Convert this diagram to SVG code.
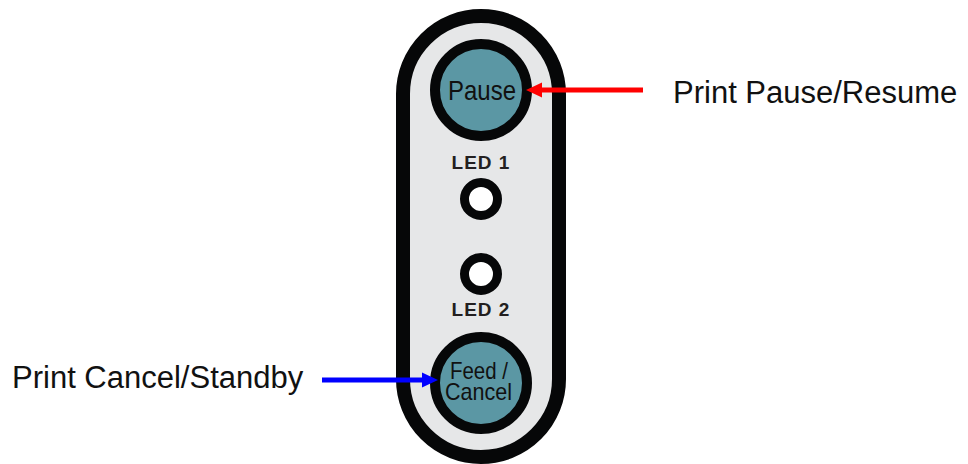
<svg xmlns="http://www.w3.org/2000/svg" width="968" height="464" viewBox="0 0 968 464">
<style>
.lbl{font-family:"Liberation Sans",Arial,sans-serif;font-size:31px;fill:#111}
.btn{font-family:"Liberation Sans",Arial,sans-serif;fill:#111;text-anchor:middle}
.led{font-family:"Liberation Sans",Arial,sans-serif;font-weight:bold;font-size:19px;fill:#231f20;text-anchor:middle;letter-spacing:1px}
.ring{fill:#5b97a4;stroke:#060708;stroke-width:10}
.ledc{fill:#ffffff;stroke:#060708;stroke-width:9}
</style>
<rect width="968" height="464" fill="#ffffff"/>
<g id="panel">
<rect x="403" y="16" width="156" height="441" rx="78" ry="78" fill="#e6e7e8" stroke="#060708" stroke-width="14"/>
</g>
<g id="pause">
<circle class="ring" cx="481" cy="90" r="46"/>
<text class="btn" x="482" y="100" font-size="28" textLength="68" lengthAdjust="spacingAndGlyphs">Pause</text>
</g>
<g id="led1">
<text class="led" x="481" y="169">LED 1</text>
<circle class="ledc" cx="481" cy="199" r="16.5"/>
</g>
<g id="led2">
<circle class="ledc" cx="481" cy="274" r="16.5"/>
<text class="led" x="481" y="316">LED 2</text>
</g>
<g id="feed">
<circle class="ring" cx="481" cy="383" r="46"/>
<text class="btn" x="479" y="379" font-size="24" textLength="58" lengthAdjust="spacingAndGlyphs">Feed /</text>
<text class="btn" x="478.5" y="400" font-size="24" textLength="67" lengthAdjust="spacingAndGlyphs">Cancel</text>
</g>
<g id="label-pause">
<text class="lbl" x="673" y="103">Print Pause/Resume</text>
</g>
<g id="label-cancel">
<text class="lbl" x="12" y="388">Print Cancel/Standby</text>
</g>
<g id="connectors">
<line x1="643" y1="90" x2="540" y2="90" stroke="#ff0000" stroke-width="5"/>
<polygon points="526,90 542,82.5 542,97.5" fill="#ff0000"/>
<line x1="322" y1="380" x2="424" y2="380" stroke="#0000ff" stroke-width="5"/>
<polygon points="438,380 422,372.5 422,387.5" fill="#0000ff"/>
</g>
</svg>
